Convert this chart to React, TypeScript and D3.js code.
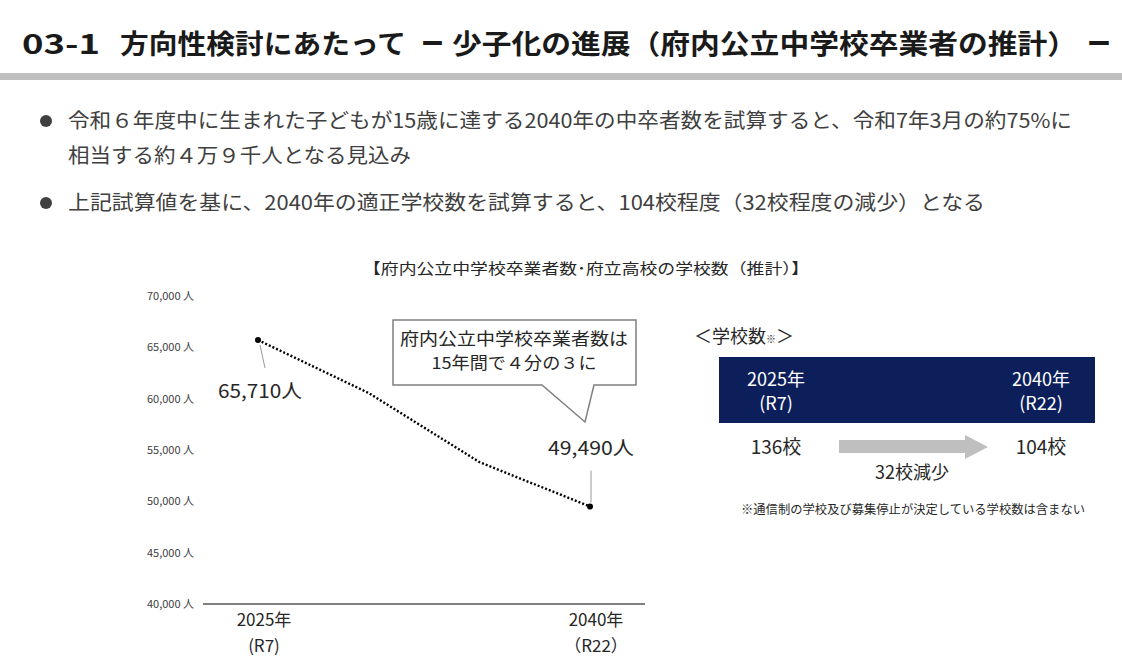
import React from "react";
import * as d3 from "d3";

const years = [2025, 2030, 2035, 2040];
const graduates = [65710, 60550, 53830, 49490];
const yTicks = [40000, 45000, 50000, 55000, 60000, 65000, 70000];
const xLabels = [
  { year: 2025, l1: "2025年", l2: "(R7)" },
  { year: 2040, l1: "2040年", l2: "（R22）" },
];
const schoolYears = ["2025年", "2040年"];
const schoolEras = ["(R7)", "(R22)"];
const schoolCounts = [136, 104];

const FONT = "'Noto Sans CJK JP', 'Noto Sans', sans-serif";
const TXT = "#262626";

export default function App() {
  const x = d3.scaleLinear().domain([2025, 2040]).range([258, 590]);
  const y = d3.scaleLinear().domain([40000, 70000]).range([604, 296]);
  const line = d3
    .line<number>()
    .x((_, i) => x(years[i]))
    .y((d) => y(d));
  const fmt = d3.format(",");
  const first = graduates[0];
  const last = graduates[graduates.length - 1];
  const reduction = schoolCounts[0] - schoolCounts[1];

  return (
    <div style={{ position: "absolute", left: 0, top: 0 }}>
      <svg width={1122} height={660} style={{ display: "block", fontFamily: FONT }}>
        <rect x={0} y={0} width={1122} height={660} fill="#fff" />
        {/* Title */}
        <g fontSize={27} fontWeight={700} fill="#1a1a1a">
          <text x={22} y={54} textLength={78} lengthAdjust="spacingAndGlyphs">03-1</text>
          <text x={120} y={54} textLength={286} lengthAdjust="spacingAndGlyphs">方向性検討にあたって</text>
          <text x={421} y={54} textLength={23} lengthAdjust="spacingAndGlyphs">ー</text>
          <text x={452} y={54} textLength={625} lengthAdjust="spacingAndGlyphs">
            少子化の進展（府内公立中学校卒業者の推計）
          </text>
          <text x={1087} y={54} textLength={24} lengthAdjust="spacingAndGlyphs">ー</text>
        </g>
        <rect x={0} y={73} width={1122} height={7} fill="#bfbfbf" />

        {/* Bullets */}
        <circle cx={46} cy={121} r={6} fill="#404040" />
        <text x={68} y={128} fontSize={20} fill="#404040" textLength={1004} lengthAdjust="spacingAndGlyphs">
          令和６年度中に生まれた子どもが15歳に達する2040年の中卒者数を試算すると、令和7年3月の約75%に
        </text>
        <text x={68} y={163} fontSize={20} fill="#404040" textLength={343} lengthAdjust="spacingAndGlyphs">
          相当する約４万９千人となる見込み
        </text>
        <circle cx={46} cy={203} r={6} fill="#404040" />
        <text x={68} y={210} fontSize={20} fill="#404040" textLength={917} lengthAdjust="spacingAndGlyphs">
          上記試算値を基に、2040年の適正学校数を試算すると、104校程度（32校程度の減少）となる
        </text>

        {/* Chart title */}
        <text x={586} y={274} fontSize={15} fill={TXT} textAnchor="middle" textLength={446} lengthAdjust="spacingAndGlyphs">
          【府内公立中学校卒業者数･府立高校の学校数（推計）】
        </text>

        {/* Y axis labels */}
        {yTicks.map((t) => (
          <text key={t} x={194} y={y(t)} dy="0.35em" fontSize={11} fill="#404040" textAnchor="end">
            {fmt(t)} 人
          </text>
        ))}
        <line x1={203} x2={645} y1={y(40000)} y2={y(40000)} stroke="#808080" strokeWidth={2} />
        {xLabels.map((d) => (
          <g key={d.year}>
            <text x={x(d.year) + 6} y={626} fontSize={17} fill={TXT} textAnchor="middle">
              {d.l1}
            </text>
            <text x={x(d.year) + 6} y={652} fontSize={17} fill={TXT} textAnchor="middle">
              {d.l2}
            </text>
          </g>
        ))}

        {/* Line */}
        <path d={line(graduates) || ""} fill="none" stroke="#000" strokeWidth={2.4} strokeDasharray="2 2" />
        <circle cx={x(years[0])} cy={y(first)} r={3} fill="#000" />
        <circle cx={x(years[years.length - 1])} cy={y(last)} r={3} fill="#000" />

        {/* Data labels */}
        <line x1={x(years[0]) + 2} y1={y(first) + 5} x2={x(years[0]) + 7} y2={y(first) + 28} stroke="#999" strokeWidth={1} />
        <text x={260} y={398} fontSize={19} fill={TXT} textAnchor="middle" textLength={84} lengthAdjust="spacingAndGlyphs">
          {fmt(first)}人
        </text>
        <line x1={x(years[years.length - 1]) + 1} y1={y(last) - 4} x2={x(years[years.length - 1]) + 1} y2={y(last) - 36} stroke="#999" strokeWidth={1} />
        <text x={591} y={455} fontSize={19} fill={TXT} textAnchor="middle" textLength={86} lengthAdjust="spacingAndGlyphs">
          {fmt(last)}人
        </text>

        {/* Callout */}
        <path
          d="M393,320 L636,320 L636,385 L594,385 L585,422 L542,385 L393,385 Z"
          fill="#fff"
          stroke="#7f7f7f"
          strokeWidth={1.5}
        />
        <text x={514} y={345} fontSize={16.5} fill={TXT} textAnchor="middle" textLength={228} lengthAdjust="spacingAndGlyphs">
          府内公立中学校卒業者数は
        </text>
        <text x={514} y={369} fontSize={16.5} fill={TXT} textAnchor="middle" textLength={165} lengthAdjust="spacingAndGlyphs">
          15年間で４分の３に
        </text>

        {/* School count panel */}
        <text x={694} y={343} fontSize={18} fill={TXT}>
          ＜学校数<tspan fontSize={10}>※</tspan>＞
        </text>
        <rect x={719} y={357} width={376} height={66} fill="#0c1f5b" />
        {[776, 1041].map((cx, i) => (
          <g key={cx}>
            <text x={cx} y={386} fontSize={18} fill="#fff" textAnchor="middle">
              {schoolYears[i]}
            </text>
            <text x={cx} y={410} fontSize={18} fill="#fff" textAnchor="middle">
              {schoolEras[i]}
            </text>
            <text x={cx} y={454} fontSize={19} fill={TXT} textAnchor="middle">
              {schoolCounts[i]}校
            </text>
          </g>
        ))}
        <path d="M839,440 L965,440 L965,435 L988,447 L965,459 L965,453 L839,453 Z" fill="#bfbfbf" />
        <text x={912} y={479} fontSize={18} fill={TXT} textAnchor="middle">
          {reduction}校減少
        </text>
        <text x={741} y={514} fontSize={12} fill={TXT} textLength={344} lengthAdjust="spacingAndGlyphs">
          ※通信制の学校及び募集停止が決定している学校数は含まない
        </text>
      </svg>
    </div>
  );
}
